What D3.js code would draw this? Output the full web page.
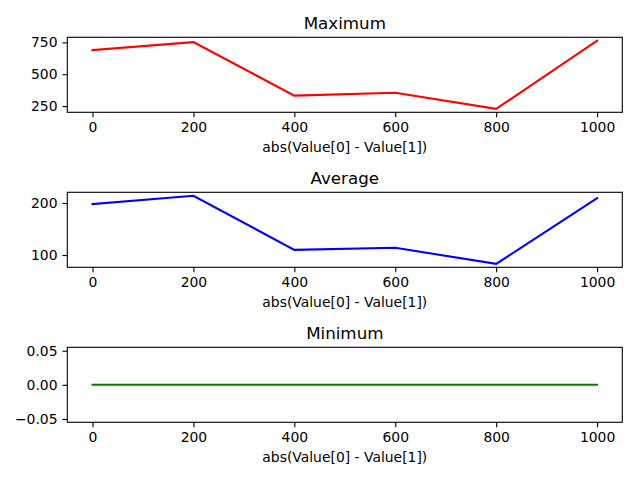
<!DOCTYPE html>
<html>
<head>
<meta charset="utf-8">
<script src="https://cdn.jsdelivr.net/npm/d3@7"></script>
<style>
  body { margin: 0; background: #fff; }
  svg { display: block; }
  text { font-family: "DejaVu Sans", sans-serif; fill: #000; }
  .tick text { font-size: 13.9px; }
  .domain { display: none; }
</style>
</head>
<body>
<svg id="chart" width="640" height="480"></svg>
<script>
const xValues = [0, 200, 400, 600, 800, 1000];
const maxValues = [690, 752, 332, 355, 228, 763];
const avgValues = [198, 214, 110, 114, 83, 209];
const minValues = [0, 0, 0, 0, 0, 0];
const xTicks = [0, 200, 400, 600, 800, 1000];

const panels = [
  { title: "Maximum", values: maxValues, color: "red", ticks: [250, 500, 750], fmt: d3.format("d"), top: 37.3 },
  { title: "Average", values: avgValues, color: "blue", ticks: [100, 200], fmt: d3.format("d"), top: 192.3 },
  { title: "Minimum", values: minValues, color: "green", ticks: [-0.05, 0, 0.05], fmt: d => d3.format(".2f")(d).replace("-", "\u2212"), top: 347.3 }
];

const svg = d3.select("#chart");
const left = 67.3, right = 622.3, plotH = 75;

const x = d3.scaleLinear().domain([-50, 1050]).range([left, right]);

panels.forEach(p => {
  let lo = d3.min(p.values), hi = d3.max(p.values);
  if (lo === hi) { lo -= 0.05; hi += 0.05; }
  const pad = (hi - lo) * 0.05;
  const y = d3.scaleLinear().domain([lo - pad, hi + pad]).range([p.top + plotH, p.top]);

  const g = svg.append("g");

  const xAxis = d3.axisBottom(x).tickValues(xTicks).tickSize(4.9).tickPadding(4.9).tickFormat(d3.format("d"));
  g.append("g")
    .attr("transform", `translate(0,${p.top + plotH})`)
    .call(xAxis)
    .call(a => a.selectAll(".tick line").attr("stroke-width", 1.1));

  const yAxis = d3.axisLeft(y).tickValues(p.ticks).tickSize(4.9).tickPadding(4.9).tickFormat(p.fmt);
  g.append("g")
    .attr("transform", `translate(${left},0)`)
    .call(yAxis)
    .call(a => a.selectAll(".tick line").attr("stroke-width", 1.1));

  const line = d3.line()
    .x((d, i) => x(xValues[i]))
    .y(d => y(d));

  g.append("path")
    .datum(p.values)
    .attr("d", line)
    .attr("fill", "none")
    .attr("stroke", p.color)
    .attr("stroke-width", 2.08)
    .attr("stroke-linecap", "square");

  g.append("rect")
    .attr("x", left)
    .attr("y", p.top)
    .attr("width", right - left)
    .attr("height", plotH)
    .attr("fill", "none")
    .attr("stroke", "#000")
    .attr("stroke-width", 1.1);

  g.append("text")
    .attr("x", (left + right) / 2)
    .attr("y", p.top - 8.5)
    .attr("text-anchor", "middle")
    .style("font-size", "16.7px")
    .text(p.title);

  g.append("text")
    .attr("x", (left + right) / 2)
    .attr("y", p.top + plotH + 40)
    .attr("text-anchor", "middle")
    .style("font-size", "13.9px")
    .text("abs(Value[0] - Value[1])");
});
</script>
</body>
</html>
